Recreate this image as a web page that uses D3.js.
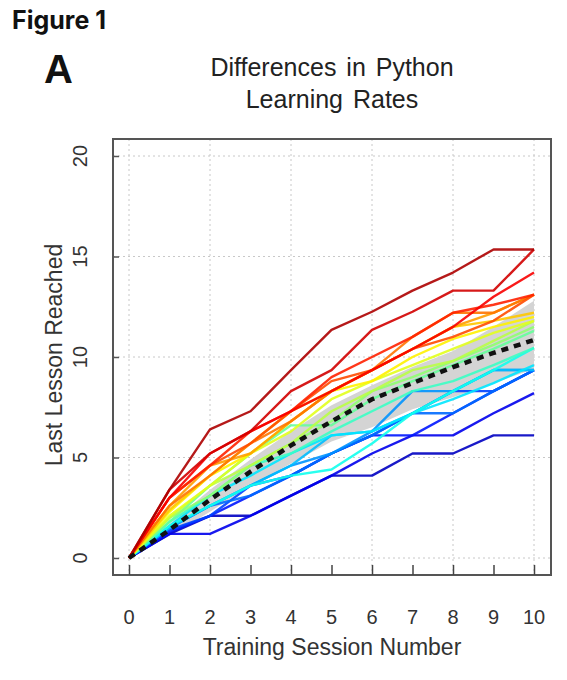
<!DOCTYPE html>
<html>
<head>
<meta charset="utf-8">
<script src="https://cdn.jsdelivr.net/npm/d3@7"></script>
<style>
  html, body { margin: 0; padding: 0; background: #fff; }
  svg { display: block; }
</style>
</head>
<body>
<svg id="chart" width="567" height="680"></svg>
<script>
// ---------- DATA ----------
const sessions = [0, 1, 2, 3, 4, 5, 6, 7, 8, 9, 10];
const xTickLabels = ["0","1","2","3","4","5","6","7","8","9","10"];
const yTickValues = [0, 5, 10, 15, 20];
const xGridValues = [0, 2, 4, 6, 8, 10];

// individual learners (ordered slowest -> fastest), last lesson reached per session
const learners = [
  [0, 1.2, 2.1, 2.1, 3.1, 4.1, 4.1, 5.2, 5.2, 6.1, 6.1],
  [0, 1.2, 1.2, 2.1, 3.1, 4.1, 5.2, 6.1, 6.1, 7.2, 8.2],
  [0, 1.3, 2.1, 3.1, 4.1, 5.2, 6.1, 6.1, 7.2, 8.3, 9.35],
  [0, 1.4, 2.1, 3.6, 4.1, 5.2, 6.1, 7.2, 8.3, 8.3, 9.35],
  [0, 1.5, 2.6, 3.1, 4.1, 5.2, 6.1, 7.2, 7.2, 8.3, 9.35],
  [0, 1.5, 2.6, 3.6, 4.6, 5.2, 6.3, 8.3, 8.3, 9.35, 9.35],
  [0, 1.5, 2.6, 3.6, 4.6, 6.1, 6.3, 7.2, 8.3, 9.35, 9.35],
  [0, 1.6, 3.1, 4.1, 5.2, 6.1, 6.3, 7.2, 7.9, 8.7, 9.6],
  [0, 1.6, 2.6, 3.6, 4.1, 4.4, 5.7, 7.2, 8.3, 9.35, 10.45],
  [0, 1.8, 3.1, 4.6, 5.2, 6.3, 7.3, 8.3, 8.8, 9.6, 10.45],
  [0, 1.8, 3.6, 5.2, 6.6, 6.6, 7.9, 8.8, 9.6, 10.4, 11.3],
  [0, 2.0, 3.1, 4.6, 5.7, 6.8, 8.3, 9.0, 9.8, 10.6, 11.5],
  [0, 2.0, 3.6, 4.6, 5.7, 7.3, 8.3, 9.35, 9.8, 10.8, 11.8],
  [0, 2.1, 3.6, 5.2, 6.3, 7.9, 8.8, 9.6, 10.4, 11.2, 11.8],
  [0, 2.3, 4.1, 5.2, 6.8, 8.3, 8.8, 10.0, 10.9, 11.5, 12.0],
  [0, 2.4, 4.1, 5.7, 7.3, 8.3, 9.35, 10.4, 11.5, 11.8, 12.2],
  [0, 2.6, 4.6, 5.2, 6.8, 8.3, 9.35, 10.4, 11.5, 12.2, 13.1],
  [0, 2.6, 4.1, 5.7, 6.8, 8.3, 9.35, 11.0, 12.2, 12.2, 13.1],
  [0, 3.0, 4.6, 5.7, 7.3, 8.8, 9.35, 10.4, 11.0, 11.8, 13.1],
  [0, 3.0, 4.6, 6.3, 7.3, 9.0, 10.0, 11.0, 12.2, 12.6, 13.1],
  [0, 3.0, 5.2, 6.3, 7.3, 8.3, 9.35, 10.4, 11.5, 13.0, 14.2],
  [0, 3.4, 5.2, 6.3, 8.3, 9.35, 11.35, 12.25, 13.3, 13.3, 15.35],
  [0, 3.4, 6.4, 7.3, 9.35, 11.35, 12.25, 13.3, 14.2, 15.35, 15.35]
];

// group mean and shaded band
const meanValues = [0, 1.4, 2.9, 4.3, 5.6, 6.8, 7.9, 8.7, 9.5, 10.2, 10.85];
const bandHigh   = [0, 1.7, 3.4, 4.9, 6.3, 7.6, 8.6, 9.5, 10.3, 11.5, 12.8];
const bandLow    = [0, 1.1, 2.3, 3.6, 4.7, 5.8, 6.5, 7.4, 8.0, 8.7, 9.4];

// ---------- LAYOUT ----------
const svg = d3.select("#chart");
const frame = {left: 113, right: 551, top: 139, bottom: 575};
const x = d3.scaleLinear().domain([0, 10]).range([129, 534]);
const y = d3.scaleLinear().domain([0, 20]).range([558, 156]);

const jet = d3.scaleLinear()
  .domain([0, 0.11, 0.36, 0.61, 0.86, 1])
  .range(["#00008F", "#0000FF", "#00FFFF", "#FFFF00", "#FF0000", "#800000"])
  .interpolate(d3.interpolateRgb);

// headings
svg.append("text").attr("x", 12).attr("y", 29)
  .attr("font-family", "Inter, 'Liberation Sans', sans-serif")
  .attr("font-weight", 700).attr("font-size", 25).attr("fill", "#111")
  .text("Figure 1");
svg.append("text").attr("x", 44).attr("y", 83)
  .attr("font-family", "'Liberation Sans', Arial, sans-serif")
  .attr("font-weight", 700).attr("font-size", 40).attr("fill", "#111")
  .text("A");

const titleG = svg.append("g")
  .attr("font-family", "'Liberation Sans', Arial, sans-serif")
  .attr("font-size", 25).attr("fill", "#222").attr("text-anchor", "middle")
  .attr("word-spacing", 3);
titleG.append("text").attr("x", 332).attr("y", 76).text("Differences in Python");
titleG.append("text").attr("x", 332).attr("y", 108).text("Learning Rates");

// grid
const grid = svg.append("g").attr("stroke", "#c8c8c8").attr("stroke-width", 1)
  .attr("stroke-dasharray", "2,3");
grid.selectAll("line.v").data(xGridValues).join("line")
  .attr("x1", d => x(d)).attr("x2", d => x(d))
  .attr("y1", frame.top).attr("y2", frame.bottom);
grid.selectAll("line.h").data(yTickValues).join("line")
  .attr("x1", frame.left).attr("x2", frame.right)
  .attr("y1", d => y(d)).attr("y2", d => y(d));

// band
const area = d3.area()
  .x((d, i) => x(sessions[i]))
  .y0((d, i) => y(bandLow[i]))
  .y1((d, i) => y(bandHigh[i]));
svg.append("path").datum(sessions).attr("d", area).attr("fill", "#d4d4d4");

// learner lines
const line = d3.line().x((d, i) => x(sessions[i])).y(d => y(d));
const n = learners.length;
svg.append("g").selectAll("path").data(learners).join("path")
  .attr("d", line)
  .attr("fill", "none")
  .attr("stroke", (d, i) => jet(0.05 + 0.9 * i / (n - 1)))
  .attr("stroke-width", 2.4)
  .attr("stroke-linejoin", "round")
  .attr("stroke-opacity", 0.9);

// mean dashed line
svg.append("path").datum(meanValues).attr("d", line)
  .attr("fill", "none").attr("stroke", "#111").attr("stroke-width", 4.5)
  .attr("stroke-dasharray", "7,6");

// frame
svg.append("rect")
  .attr("x", frame.left).attr("y", frame.top)
  .attr("width", frame.right - frame.left).attr("height", frame.bottom - frame.top)
  .attr("fill", "none").attr("stroke", "#555").attr("stroke-width", 2);

// x axis ticks (inward) and labels
const xAxis = d3.axisBottom(x).tickValues(sessions).tickSize(-10).tickFormat("");
const gx = svg.append("g").attr("transform", `translate(0,${frame.bottom})`).call(xAxis);
gx.select(".domain").remove();
gx.selectAll(".tick line").attr("stroke", "#444").attr("stroke-width", 1.5);

svg.append("g").selectAll("text").data(sessions).join("text")
  .attr("x", d => x(d)).attr("y", 624)
  .attr("text-anchor", "middle")
  .attr("font-family", "'Liberation Sans', Arial, sans-serif")
  .attr("font-size", 20).attr("fill", "#333")
  .text((d, i) => xTickLabels[i]);

svg.append("text").attr("x", 332).attr("y", 655).attr("text-anchor", "middle")
  .attr("font-family", "'Liberation Sans', Arial, sans-serif")
  .attr("font-size", 23).attr("fill", "#333")
  .text("Training Session Number");

// y axis ticks (inward) and labels
const yAxis = d3.axisLeft(y).tickValues(yTickValues).tickSize(-6).tickFormat("");
const gy = svg.append("g").attr("transform", `translate(${frame.left},0)`).call(yAxis);
gy.select(".domain").remove();
gy.selectAll(".tick line").attr("stroke", "#555").attr("stroke-width", 1.5);

svg.append("g").selectAll("text").data(yTickValues).join("text")
  .attr("transform", d => `translate(87,${y(d)}) rotate(-90)`)
  .attr("text-anchor", "middle")
  .attr("font-family", "'Liberation Sans', Arial, sans-serif")
  .attr("font-size", 20).attr("fill", "#333")
  .text(d => d);

svg.append("text").attr("transform", "translate(62,355) rotate(-90)")
  .attr("text-anchor", "middle")
  .attr("font-family", "'Liberation Sans', Arial, sans-serif")
  .attr("font-size", 23).attr("fill", "#333")
  .text("Last Lesson Reached");
</script>
</body>
</html>
